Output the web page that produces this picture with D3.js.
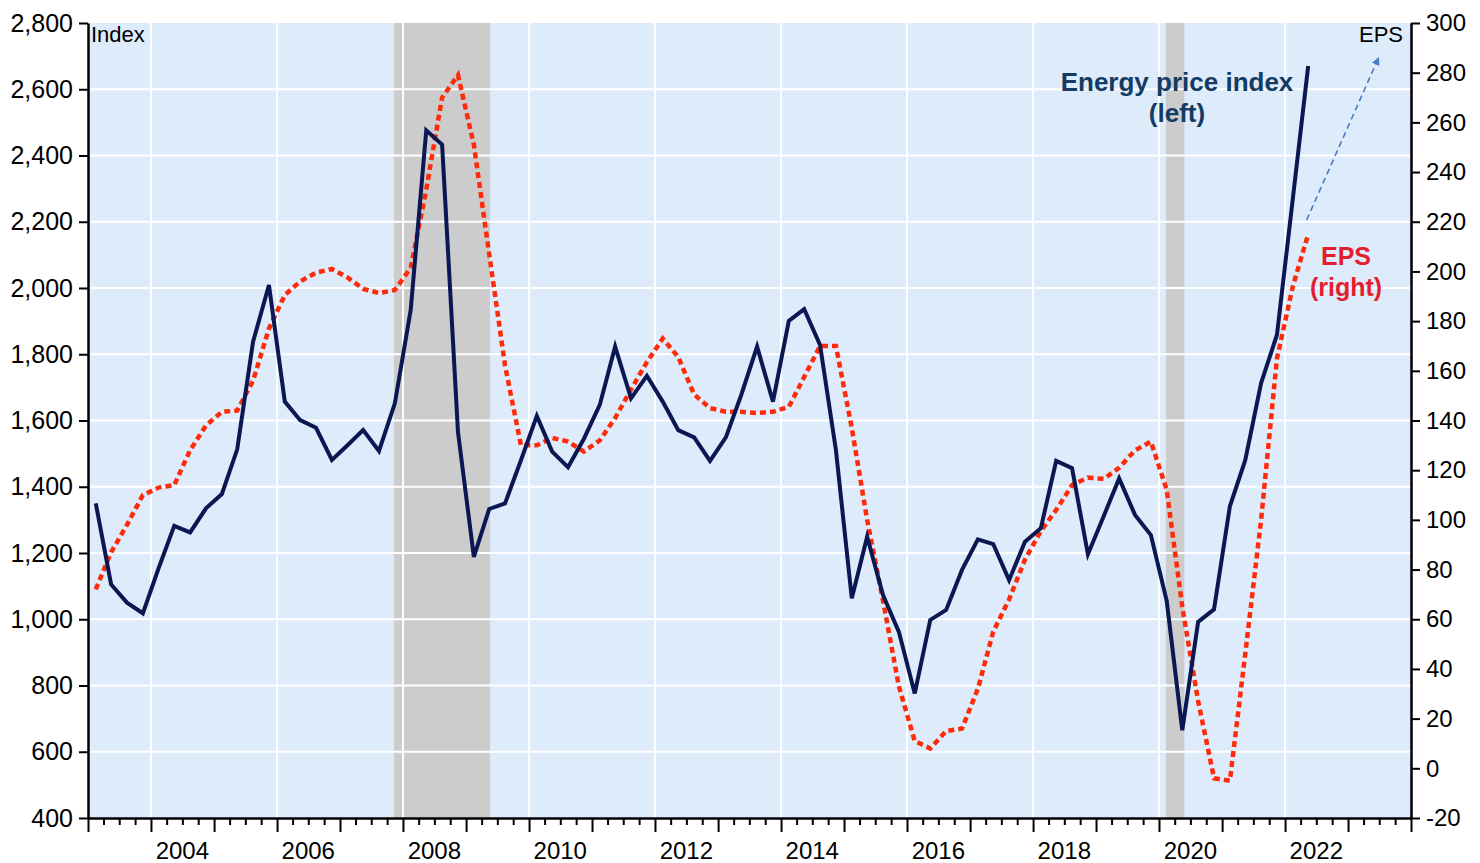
<!DOCTYPE html>
<html>
<head>
<meta charset="utf-8">
<script src="https://cdn.jsdelivr.net/npm/d3@7"></script>
<style>
  body { margin: 0; background: #fff; }
  svg text { font-family: "Liberation Sans", Arial, sans-serif; }
</style>
</head>
<body>
<svg id="chart"></svg>
<script>
// quarterly values, 2003Q1 .. 2022Q2
const energy = [1350, 1105, 1050, 1018, 1155, 1282, 1262, 1335, 1378, 1513, 1838, 2009,
  1657, 1601, 1578, 1481, 1526, 1571, 1508, 1652, 1934, 2476, 2433, 1565,
  1188, 1333, 1350, 1480, 1614, 1506, 1459, 1545, 1647, 1823, 1667, 1735,
  1657, 1571, 1549, 1478, 1549, 1677, 1823, 1657, 1901, 1936, 1828, 1511,
  1063, 1249, 1073, 962, 776, 998, 1028, 1149, 1241, 1227, 1118, 1234,
  1275, 1478, 1456, 1196, 1312, 1425, 1315, 1254, 1055, 665, 992, 1030,
  1341, 1480, 1713, 1859, 2270, 2670];

const eps = [72, 87, 98, 110, 113, 114, 128, 138, 143.5, 144, 156, 177,
  190.5, 196, 199.5, 201, 197.5, 193, 191.3, 192.5, 201.5, 233, 270, 279,
  251, 207, 162, 130, 130, 133, 131.5, 127.5, 132, 141, 152.5, 163.5,
  173, 165.5, 150.5, 145, 143.5, 143.5, 143, 143.5, 145.5, 157.5, 170, 170,
  137, 100, 67.5, 33, 11, 8, 15, 16, 32, 55, 68, 84,
  95.5, 104, 114, 117, 116.5, 121, 128, 131.5, 112, 65, 27, -4,
  -5, 46, 100, 165, 194, 215];

// quarter labels
const quarters = energy.map((d, i) => `${2003 + Math.floor(i / 4)}Q${i % 4 + 1}`);

// recession periods
const recessions = [["2007-11-10", "2009-05-19"], ["2020-02-10", "2020-05-27"]];

// ticks
const leftTicks = [400, 600, 800, 1000, 1200, 1400, 1600, 1800, 2000, 2200, 2400, 2600, 2800];
const rightTicks = [-20, 0, 20, 40, 60, 80, 100, 120, 140, 160, 180, 200, 220, 240, 260, 280, 300];
const yearLabels = [2004, 2006, 2008, 2010, 2012, 2014, 2016, 2018, 2020, 2022];

// EPS arrow annotation (date, EPS value)
const epsArrow = [["2022-05-06", 220.7], ["2023-06-29", 286.3]];

const width = 1480;
const height = 863;
const margin = { top: 23, right: 69, bottom: 45, left: 88 };

const parseDate = d3.timeParse("%Y-%m-%d");
const quarterDate = q => new Date(+q.slice(0, 4), (+q.slice(5) - 1) * 3 + 1, 15);

const svg = d3.select("#chart")
  .attr("width", width)
  .attr("height", height);

// scales
const x = d3.scaleTime()
  .domain([new Date(2003, 0, 1), new Date(2024, 0, 1)])
  .range([margin.left, width - margin.right]);

const yLeft = d3.scaleLinear()
  .domain([400, 2800])
  .range([height - margin.bottom, margin.top]);

const yRight = d3.scaleLinear()
  .domain([-20, 300])
  .range([height - margin.bottom, margin.top]);

// plot background
svg.append("rect")
  .attr("x", margin.left)
  .attr("y", margin.top)
  .attr("width", width - margin.left - margin.right)
  .attr("height", height - margin.top - margin.bottom)
  .attr("fill", "#deebfb");

// recession shading
svg.append("g").selectAll("rect")
  .data(recessions)
  .join("rect")
  .attr("x", d => x(parseDate(d[0])))
  .attr("width", d => x(parseDate(d[1])) - x(parseDate(d[0])))
  .attr("y", margin.top)
  .attr("height", height - margin.top - margin.bottom)
  .attr("fill", "#cccccc");

// grid lines
svg.append("g").selectAll("line")
  .data(leftTicks.slice(1, -1))
  .join("line")
  .attr("x1", margin.left)
  .attr("x2", width - margin.right)
  .attr("y1", d => yLeft(d))
  .attr("y2", d => yLeft(d))
  .attr("stroke", "#fff")
  .attr("stroke-width", 2);

svg.append("g").selectAll("line")
  .data(yearLabels)
  .join("line")
  .attr("x1", d => x(new Date(d, 0, 1)))
  .attr("x2", d => x(new Date(d, 0, 1)))
  .attr("y1", margin.top)
  .attr("y2", height - margin.bottom)
  .attr("stroke", "#fff")
  .attr("stroke-width", 2);

// lines
const energyLine = d3.line()
  .x((d, i) => x(quarterDate(quarters[i])))
  .y(d => yLeft(d));

const epsLine = d3.line()
  .x((d, i) => x(quarterDate(quarters[i])))
  .y(d => yRight(d));

svg.append("path")
  .datum(eps)
  .attr("fill", "none")
  .attr("stroke", "#ff2a0a")
  .attr("stroke-width", 4.5)
  .attr("stroke-dasharray", "6,4")
  .attr("d", epsLine);

svg.append("path")
  .datum(energy)
  .attr("fill", "none")
  .attr("stroke", "#0b1752")
  .attr("stroke-width", 4)
  .attr("d", energyLine);

// arrow
svg.append("defs").append("marker")
  .attr("id", "arrow")
  .attr("viewBox", "0 0 10 10")
  .attr("refX", 10)
  .attr("refY", 5)
  .attr("markerWidth", 5)
  .attr("markerHeight", 5)
  .attr("orient", "auto")
  .append("path")
  .attr("d", "M0,0L10,5L0,10Z")
  .attr("fill", "#4a7cc0");

svg.append("line")
  .attr("x1", x(parseDate(epsArrow[0][0])))
  .attr("y1", yRight(epsArrow[0][1]))
  .attr("x2", x(parseDate(epsArrow[1][0])))
  .attr("y2", yRight(epsArrow[1][1]))
  .attr("stroke", "#4a7cc0")
  .attr("stroke-width", 1.6)
  .attr("stroke-dasharray", "6,4")
  .attr("marker-end", "url(#arrow)");

// axes
const bottom = height - margin.bottom;
const xAxis = svg.append("g")
  .attr("transform", `translate(0,${bottom})`)
  .call(d3.axisBottom(x)
    .tickValues(d3.timeMonth.every(3).range(x.domain()[0], new Date(2024, 0, 2)))
    .tickSizeOuter(0)
    .tickFormat(""));
xAxis.selectAll(".tick line")
  .attr("y2", d => d.getMonth() === 0 ? 14 : 7);

svg.append("g").selectAll("text")
  .data(yearLabels)
  .join("text")
  .attr("x", d => x(new Date(d, 6, 1)))
  .attr("y", 859)
  .attr("text-anchor", "middle")
  .attr("font-size", 24)
  .text(d => d);

const leftAxis = svg.append("g")
  .attr("transform", `translate(${margin.left},0)`)
  .call(d3.axisLeft(yLeft)
    .tickValues(leftTicks)
    .tickSize(9)
    .tickSizeOuter(0)
    .tickPadding(6)
    .tickFormat(d3.format(",")));

const rightAxis = svg.append("g")
  .attr("transform", `translate(${width - margin.right},0)`)
  .call(d3.axisRight(yRight)
    .tickValues(rightTicks)
    .tickSize(9)
    .tickSizeOuter(0)
    .tickPadding(6)
    .tickFormat(d => String(d)));

[xAxis, leftAxis, rightAxis].forEach(g => {
  g.select(".domain").attr("stroke", "#000").attr("stroke-width", 2.5);
  g.selectAll(".tick line").attr("stroke", "#000").attr("stroke-width", 2);
  g.selectAll(".tick text")
    .attr("font-size", 24)
    .attr("fill", "#000")
    .style("font-family", "'Liberation Sans', Arial, sans-serif");
});
leftAxis.selectAll(".tick text").attr("font-size", 25);

// labels
svg.append("text")
  .attr("x", margin.left + 3)
  .attr("y", 42)
  .attr("font-size", 22)
  .text("Index");

svg.append("text")
  .attr("x", width - margin.right - 8)
  .attr("y", 42)
  .attr("text-anchor", "end")
  .attr("font-size", 22)
  .text("EPS");

const energyLabel = svg.append("text")
  .attr("text-anchor", "middle")
  .attr("font-size", 26)
  .attr("font-weight", "bold")
  .attr("fill", "#123c63");
energyLabel.append("tspan").attr("x", 1177).attr("y", 91).text("Energy price index");
energyLabel.append("tspan").attr("x", 1177).attr("y", 122).text("(left)");

const epsLabel = svg.append("text")
  .attr("text-anchor", "middle")
  .attr("font-size", 25)
  .attr("font-weight", "bold")
  .attr("fill", "#e31e2d");
epsLabel.append("tspan").attr("x", 1346).attr("y", 265).text("EPS");
epsLabel.append("tspan").attr("x", 1346).attr("y", 296).text("(right)");
</script>
</body>
</html>
